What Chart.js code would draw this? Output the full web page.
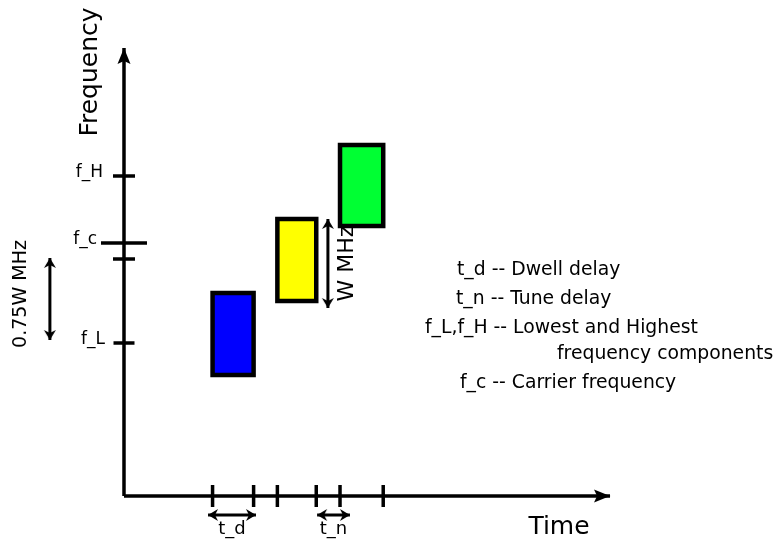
<!DOCTYPE html>
<html>
<head>
<meta charset="utf-8">
<script src="https://cdn.jsdelivr.net/npm/chart.js@4.4.1/dist/chart.umd.min.js"></script>
<style>
  html, body { margin: 0; padding: 0; background: #fff; }
  #wrap { width: 774px; height: 544px; }
</style>
</head>
<body>
<div id="wrap"><canvas id="hopChart"></canvas></div>
<script>
// time axis (arbitrary units) and frequency axis (arbitrary units)
const timeAxisEnd = 22.5;
const freqAxisEnd = 44.8;

// visible window, wider than the axes so labels and arrows outside them fit
const timeView = [-5.74, 30.09];
const freqView = [-4.8, 49.6];

// tick marks on the time axis: dwell / tune boundaries
const timeTicks = [4.1, 6.0, 7.1, 8.9, 10.0, 12.0];

// frequency ticks
const freqTickLabels = ['f_L', '', 'f_c', 'f_H'];
const freqTickValues = [15.3, 23.7, 25.3, 32.0];

// hops: start/end time, low/high frequency
const hopStart = [4.1, 7.1, 10.0];
const hopEnd = [6.0, 8.9, 12.0];
const hopLow = [12.1, 19.5, 27.0];
const hopHigh = [20.3, 27.7, 35.1];

// dimension arrows: [x1, y1, x2, y2]
const widthArrow = [9.44, 27.7, 9.44, 18.8];
const offsetArrow = [-3.43, 23.8, -3.43, 15.6];
const dwellArrow = [3.89, -1.9, 6.11, -1.9];
const tuneArrow = [8.94, -1.9, 10.46, -1.9];

const legendLines = [
    't_d -- Dwell delay',
    't_n -- Tune delay',
    'f_L,f_H -- Lowest and Highest',
    'frequency components',
    'f_c -- Carrier frequency'
];

const hopColors = ['#0000ff', '#ffff00', '#00ff33'];
const FONT = '"DejaVu Sans", Verdana, sans-serif';

// arrow head image, tip at the centre, pointing up
function makeHead(len, halfW, notch) {
    const c = document.createElement('canvas');
    const s = Math.ceil(len * 2 + 2);
    c.width = s;
    c.height = s;
    const g = c.getContext('2d');
    const m = s / 2;
    g.fillStyle = '#000';
    g.beginPath();
    g.moveTo(m, m);
    g.lineTo(m + halfW, m + len);
    g.lineTo(m, m + len - notch);
    g.lineTo(m - halfW, m + len);
    g.closePath();
    g.fill();
    return c;
}
const bigHead = makeHead(16, 6.5, 3);
const smallHead = makeHead(10, 6, 3);

function arrowDataset(a, rot) {
    return {
        data: [{ x: a[0], y: a[1] }, { x: a[2], y: a[3] }],
        showLine: true,
        borderColor: '#000',
        borderWidth: 3,
        pointStyle: smallHead,
        pointRadius: 6,
        rotation: rot,
        clip: false
    };
}

const datasets = [];

// hop rectangles
hopStart.forEach((s, i) => {
    const e = hopEnd[i], lo = hopLow[i], hi = hopHigh[i];
    datasets.push({
        data: [
            { x: s, y: lo }, { x: e, y: lo }, { x: e, y: hi },
            { x: s, y: hi }, { x: s, y: lo }, { x: e, y: lo }
        ],
        showLine: true,
        fill: 'shape',
        backgroundColor: hopColors[i],
        borderColor: '#000',
        borderWidth: 4.5,
        borderJoinStyle: 'miter',
        pointRadius: 0,
        clip: false
    });
});

// axes with arrow heads
datasets.push({
    data: [{ x: 0, y: 0 }, { x: 0, y: freqAxisEnd - 0.6 }, { x: 0, y: freqAxisEnd }],
    showLine: true,
    borderColor: '#000',
    borderWidth: 3.5,
    pointStyle: bigHead,
    pointRadius: [0, 0, 8],
    rotation: 0,
    clip: false
});
datasets.push({
    data: [{ x: 0, y: 0 }, { x: timeAxisEnd - 0.3, y: 0 }, { x: timeAxisEnd, y: 0 }],
    showLine: true,
    borderColor: '#000',
    borderWidth: 3.5,
    pointStyle: bigHead,
    pointRadius: [0, 0, 8],
    rotation: 90,
    clip: false
});

// tick marks
datasets.push({
    data: timeTicks.map(t => ({ x: t, y: 0 })),
    pointStyle: 'line',
    rotation: 90,
    pointRadius: 11,
    pointBorderWidth: 3.5,
    pointBorderColor: '#000',
    clip: false
});
datasets.push({
    data: freqTickValues.map(v => ({ x: 0, y: v })),
    pointStyle: 'line',
    rotation: 0,
    pointRadius: [10.5, 11, 23, 11],
    pointBorderWidth: 3.5,
    pointBorderColor: '#000',
    clip: false
});

// dimension arrows
datasets.push(arrowDataset(widthArrow, [0, 180]));
datasets.push(arrowDataset(offsetArrow, [0, 180]));
datasets.push(arrowDataset(dwellArrow, [270, 90]));
datasets.push(arrowDataset(tuneArrow, [270, 90]));

function rotatedText(ctx, text, x, y, size) {
    ctx.save();
    ctx.translate(x, y);
    ctx.rotate(-Math.PI / 2);
    ctx.font = size + 'px ' + FONT;
    ctx.textAlign = 'center';
    ctx.textBaseline = 'middle';
    ctx.fillText(text, 0, 0);
    ctx.restore();
}

const labelPlugin = {
    id: 'labels',
    afterDatasetsDraw(chart) {
        const ctx = chart.ctx;
        const xs = chart.scales.x, ys = chart.scales.y;
        ctx.save();
        ctx.fillStyle = '#000';

        rotatedText(ctx, 'Frequency', 90, 72, 25);
        rotatedText(ctx, '0.75W MHz', 21, 294, 19);
        rotatedText(ctx, 'W MHz', xs.getPixelForValue(widthArrow[0]) + 19,
            ys.getPixelForValue((widthArrow[1] + widthArrow[3]) / 2), 22);

        ctx.textAlign = 'center';
        ctx.textBaseline = 'middle';
        ctx.font = '25px ' + FONT;
        ctx.fillText('Time', 559, 527);

        // frequency tick labels
        ctx.font = '17px ' + FONT;
        ctx.textAlign = 'right';
        const labelRight = [105, 0, 97, 103];
        freqTickLabels.forEach((lab, i) => {
            if (!lab) return;
            ctx.fillText(lab, labelRight[i], ys.getPixelForValue(freqTickValues[i]) - 3);
        });

        // t_d / t_n under their arrows
        ctx.font = '18px ' + FONT;
        ctx.textAlign = 'center';
        ctx.fillText('t_d', xs.getPixelForValue((dwellArrow[0] + dwellArrow[2]) / 2), 529);
        ctx.fillText('t_n', xs.getPixelForValue((tuneArrow[0] + tuneArrow[2]) / 2), 529);

        // legend text
        ctx.font = '18.8px ' + FONT;
        ctx.textAlign = 'left';
        ctx.textBaseline = 'alphabetic';
        const lx = [457, 456, 425, 557, 460];
        const ly = [275, 304, 333, 359, 388];
        legendLines.forEach((t, i) => ctx.fillText(t, lx[i], ly[i]));

        ctx.restore();
    }
};

new Chart(document.getElementById('hopChart'), {
    type: 'scatter',
    data: { datasets: datasets },
    options: {
        responsive: true,
        maintainAspectRatio: false,
        animation: false,
        events: [],
        layout: { padding: 0, autoPadding: false },
        plugins: {
            legend: { display: false },
            tooltip: { enabled: false }
        },
        scales: {
            x: { type: 'linear', display: false, min: timeView[0], max: timeView[1] },
            y: { type: 'linear', display: false, min: freqView[0], max: freqView[1] }
        }
    },
    plugins: [labelPlugin]
});
</script>
</body>
</html>
